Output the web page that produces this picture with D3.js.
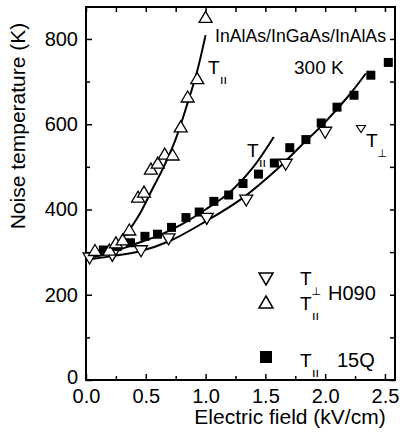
<!DOCTYPE html>
<html>
<head>
<meta charset="utf-8">
<script src="https://cdn.jsdelivr.net/npm/d3@7"></script>
<style>
  body { margin: 0; background: #fff; }
  svg { font-family: "Liberation Sans", Arial, sans-serif; }
</style>
</head>
<body>
<svg class="chart"></svg>
<script>
let width = 400,
  height = 436;

// data (x: kV/cm, y: K)
const perpH090 = [[0.03,285],[0.22,291],[0.46,302],[0.69,330],[1.01,378],[1.34,421],[1.67,505],[2.0,580]];
const parH090 = [[0.075,305],[0.195,306],[0.25,323],[0.307,330],[0.362,353],[0.435,430],[0.485,442],[0.543,496],
  [0.60,510],[0.658,531],[0.725,529],[0.792,595],[0.85,665],[0.93,708],[1.0,852]];
const par15Q = [[0.145,305],[0.26,313],[0.372,322],[0.493,337],[0.598,342],[0.715,358],[0.836,381],[0.947,394],
  [1.069,419],[1.193,434],[1.313,461],[1.442,483],[1.575,509],[1.704,545],[1.839,564],[1.967,603],
  [2.099,640],[2.241,668],[2.382,715],[2.528,745]];

// fitted curves
const fitParH090 = [[0.03,288],[0.15,298],[0.25,318],[0.35,348],[0.45,390],[0.55,445],[0.65,500],[0.75,565],[0.85,650],[0.93,725],[1.0,809]];
const fitPar15Q = [[0.0,285],[0.2,298],[0.4,318],[0.6,338],[0.8,365],[1.0,400],[1.2,440],[1.4,500],[1.57,570]];
const fitPerpH090 = [[0.0,282],[0.2,290],[0.45,302],[0.7,326],[1.0,372],[1.3,425],[1.6,495],[1.8,550],[2.0,605],[2.2,668],[2.34,719]];

const xMajor = [0, 0.5, 1.0, 1.5, 2.0, 2.5];
const xMinor = [0.25, 0.75, 1.25, 1.75, 2.25];
const yMajor = [0, 200, 400, 600, 800];
const yMinor = [100, 300, 500, 700];

let pLeft = 86, pRight = 395, pTop = 7, pBottom = 380;

let svg = d3.select(".chart").attr("width", width).attr("height", height);

let x = d3.scaleLinear().domain([0, 2.584]).range([pLeft, pRight]);
let y = d3.scaleLinear().domain([0, 875]).range([pBottom, pTop]);

// axes with inward ticks
function styleAxis(g, noLabels) {
  g.select(".domain").remove();
  g.selectAll("line").attr("stroke", "#000").attr("stroke-width", 1.5);
  g.selectAll("text").attr("font-size", 20).attr("fill", "#000");
  if (noLabels) g.selectAll("text").remove();
}

svg.append("g").attr("transform", `translate(0,${pBottom})`)
  .call(d3.axisBottom(x).tickValues(xMajor).tickSize(-6).tickPadding(9).tickFormat(d3.format(".1f")))
  .call(g => styleAxis(g, false));
svg.append("g").attr("transform", `translate(0,${pBottom})`)
  .call(d3.axisBottom(x).tickValues(xMinor).tickSize(-4))
  .call(g => styleAxis(g, true));
svg.append("g").attr("transform", `translate(0,${pTop})`)
  .call(d3.axisTop(x).tickValues(xMajor.concat(xMinor)).tickSize(-5))
  .call(g => styleAxis(g, true));

svg.append("g").attr("transform", `translate(${pLeft},0)`)
  .call(d3.axisLeft(y).tickValues(yMajor).tickSize(-6).tickPadding(8))
  .call(g => styleAxis(g, false))
  .call(g => g.selectAll(".tick text").filter(d => d == 0).attr("dy", "0.18em"));
svg.append("g").attr("transform", `translate(${pLeft},0)`)
  .call(d3.axisLeft(y).tickValues(yMinor).tickSize(-4))
  .call(g => styleAxis(g, true));
svg.append("g").attr("transform", `translate(${pRight},0)`)
  .call(d3.axisRight(y).tickValues(yMajor.concat(yMinor)).tickSize(-5))
  .call(g => styleAxis(g, true));

// frame
svg.append("rect")
  .attr("x", pLeft).attr("y", pTop)
  .attr("width", pRight - pLeft).attr("height", pBottom - pTop)
  .attr("fill", "none").attr("stroke", "#000").attr("stroke-width", 2);

// axis titles
svg.append("text")
  .attr("x", 290).attr("y", 424)
  .attr("text-anchor", "middle").attr("font-size", 21)
  .text("Electric field (kV/cm)");
svg.append("text")
  .attr("transform", "translate(25,126) rotate(-90)")
  .attr("text-anchor", "middle").attr("font-size", 21)
  .text("Noise temperature (K)");

// fitted lines
let line = d3.line().x(d => x(d[0])).y(d => y(d[1])).curve(d3.curveCatmullRom);
[fitParH090, fitPar15Q, fitPerpH090].forEach(f => {
  svg.append("path").attr("d", line(f))
    .attr("fill", "none").attr("stroke", "#000").attr("stroke-width", 2);
});

// markers
function tri(w, h, down) {
  let s = down ? -1 : 1;
  return `M0,${-s * h / 2}L${w / 2},${s * h / 2}L${-w / 2},${s * h / 2}Z`;
}

svg.append("g").selectAll("rect")
  .data(par15Q).enter().append("rect")
  .attr("x", d => x(d[0]) - 4.5).attr("y", d => y(d[1]) - 4.5)
  .attr("width", 9).attr("height", 9).attr("fill", "#000");

svg.append("g").selectAll("path")
  .data(perpH090).enter().append("path")
  .attr("transform", d => `translate(${x(d[0])},${y(d[1])})`)
  .attr("d", tri(13, 11, true))
  .attr("fill", "#fff").attr("stroke", "#000").attr("stroke-width", 1.3);

svg.append("g").selectAll("path")
  .data(parH090).enter().append("path")
  .attr("transform", d => `translate(${x(d[0])},${y(d[1])})`)
  .attr("d", tri(13, 11, false))
  .attr("fill", "#fff").attr("stroke", "#000").attr("stroke-width", 1.3);

// T with a subscript
function tLabel(tx, ty, sub, size) {
  let g = svg.append("g");
  g.append("text").attr("x", tx).attr("y", ty).attr("font-size", size).text("T");
  let s = g.append("text").attr("x", tx + size * 0.66).attr("y", ty + size * 0.5);
  if (sub == "par") {
    s.attr("font-size", 9).attr("font-weight", "bold").attr("letter-spacing", 1).text("ll");
  } else {
    s.attr("x", tx + size * 0.6).attr("font-size", 11).attr("font-family", "DejaVu Sans").text("\u22A5");
  }
}

// annotations
svg.append("text").attr("x", 215).attr("y", 42).attr("font-size", 19)
  .attr("textLength", 171).attr("lengthAdjust", "spacingAndGlyphs")
  .text("InAlAs/InGaAs/InAlAs");
svg.append("text").attr("x", 294).attr("y", 74).attr("font-size", 19).text("300 K");
tLabel(208, 74, "par", 19);
tLabel(247, 157, "par", 19);
svg.append("path").attr("transform", "translate(361,129)").attr("d", tri(9, 7, true))
  .attr("fill", "#fff").attr("stroke", "#000").attr("stroke-width", 1.2);
tLabel(366, 147, "perp", 19);

// legend
svg.append("path").attr("transform", "translate(266,279)").attr("d", tri(14, 12, true))
  .attr("fill", "#fff").attr("stroke", "#000").attr("stroke-width", 1.5);
svg.append("path").attr("transform", "translate(266,302)").attr("d", tri(14, 12, false))
  .attr("fill", "#fff").attr("stroke", "#000").attr("stroke-width", 1.5);
svg.append("rect").attr("x", 260).attr("y", 351).attr("width", 12).attr("height", 12).attr("fill", "#000");
tLabel(300, 285, "perp", 19);
tLabel(300, 310, "par", 19);
tLabel(300, 367, "par", 19);
svg.append("text").attr("x", 328).attr("y", 300).attr("font-size", 20).text("H090");
svg.append("text").attr("x", 337).attr("y", 367).attr("font-size", 20).text("15Q");
</script>
</body>
</html>
